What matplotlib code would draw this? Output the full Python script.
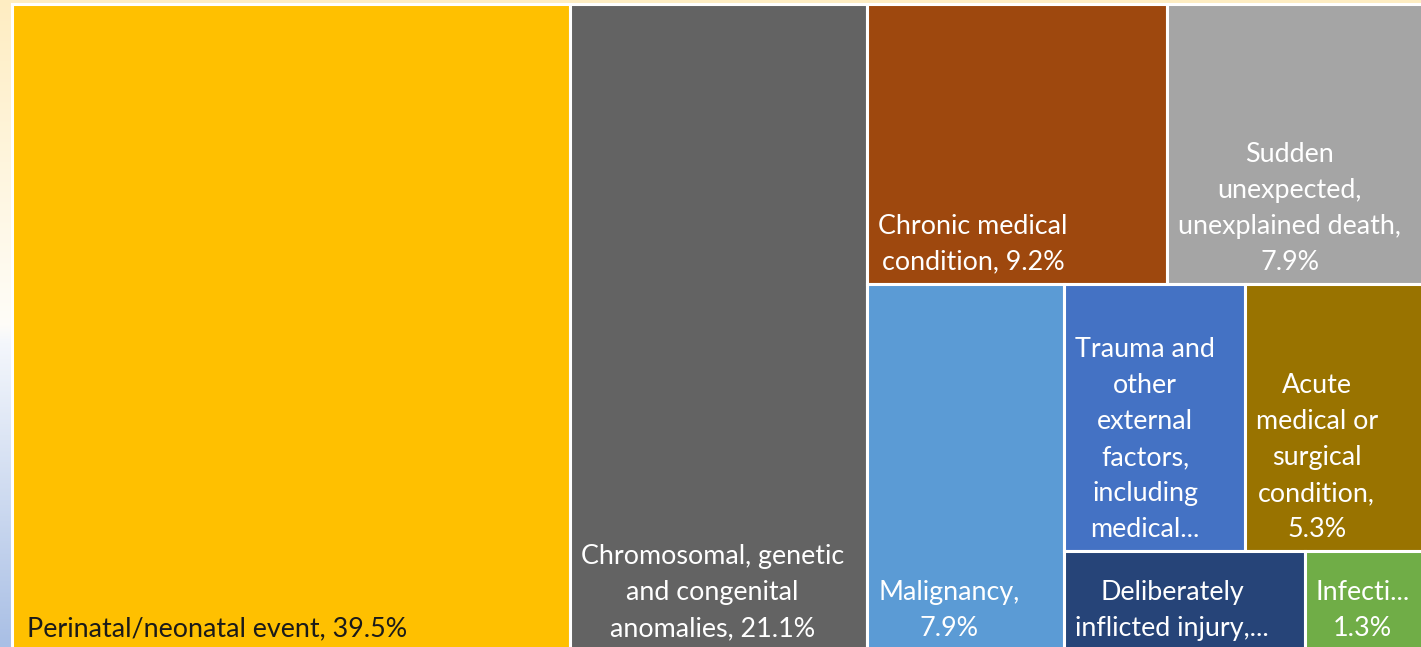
import numpy as np
import matplotlib
matplotlib.use("Agg")
import matplotlib.pyplot as plt
from matplotlib.patches import Rectangle
from matplotlib.colors import LinearSegmentedColormap

# Causes of death (share of all deaths, %)
categories = [
    "Perinatal/neonatal event",
    "Chromosomal, genetic and congenital anomalies",
    "Chronic medical condition",
    "Sudden unexpected, unexplained death",
    "Malignancy",
    "Trauma and other external factors, including medical",
    "Acute medical or surgical condition",
    "Deliberately inflicted injury",
    "Infection",
]
values = [39.5, 21.1, 9.2, 7.9, 7.9, 5.3, 5.3, 2.6, 1.3]
labels = [
    "Perinatal/neonatal event, 39.5%",
    "Chromosomal, genetic\nand congenital\nanomalies, 21.1%",
    "Chronic medical\ncondition, 9.2%",
    "Sudden\nunexpected,\nunexplained death,\n7.9%",
    "Malignancy,\n7.9%",
    "Trauma and\nother\nexternal\nfactors,\nincluding\nmedical...",
    "Acute\nmedical or\nsurgical\ncondition,\n5.3%",
    "Deliberately\ninflicted injury,...",
    "Infecti...\n1.3%",
]
colors = ["#FFC000", "#636363", "#9E480E", "#A5A5A5", "#5B9BD5",
          "#4472C4", "#997300", "#264478", "#70AD47"]
text_colors = ["#1a1a1a"] + ["white"] * 8


def worst(row, side):
    s = sum(row)
    return max(max(side * side * r / (s * s), (s * s) / (side * side * r)) for r in row)


def layout_row(row, x, y, w, h):
    s = sum(row)
    rects = []
    if w >= h:  # column along the left edge
        cw = s / h
        yy = y
        for r in row:
            rh = r / cw
            rects.append((x, yy, cw, rh))
            yy += rh
        return rects, (x + cw, y, w - cw, h)
    rh = s / w  # row along the top edge
    xx = x
    for r in row:
        rw = r / rh
        rects.append((xx, y, rw, rh))
        xx += rw
    return rects, (x, y + rh, w, h - rh)


def squarify(sizes, x, y, w, h):
    total = sum(sizes)
    areas = [v * w * h / total for v in sizes]
    rects = []
    row = []
    i = 0
    while i < len(areas):
        side = min(w, h)
        cand = row + [areas[i]]
        if not row or worst(cand, side) <= worst(row, side):
            row = cand
            i += 1
        else:
            r, (x, y, w, h) = layout_row(row, x, y, w, h)
            rects += r
            row = []
    if row:
        r, _ = layout_row(row, x, y, w, h)
        rects += r
    return rects


W_PX, H_PX = 1421, 647
fig = plt.figure(figsize=(W_PX / 100, H_PX / 100), dpi=100)
ax = fig.add_axes([0, 0, 1, 1])
ax.set_xlim(0, W_PX)
ax.set_ylim(H_PX, 0)
ax.axis("off")

# Slide-style background gradient: cream at the top, white, light blue at the bottom
bg = LinearSegmentedColormap.from_list(
    "bg", [(0.0, "#FEEDC2"), (0.5, "#FFFDF8"), (0.53, "#F4F7FC"), (1.0, "#A9BFE5")])
grad = np.linspace(0, 1, 256).reshape(-1, 1)
ax.imshow(grad, cmap=bg, aspect="auto", extent=(0, W_PX, H_PX, 0), zorder=0)

rects = squarify(values, 12, 4, 1413, 646)
for k, ((x, y, w, h), c, lab, tc) in enumerate(zip(rects, colors, labels, text_colors)):
    ax.add_patch(Rectangle((x, y), w, h, facecolor=c, edgecolor="white",
                           linewidth=2.2, zorder=2))
    pad = 15 if k == 0 else 11
    ax.text(x + pad, y + h - 9, lab, ha="left", va="bottom", ma="center",
            color=tc, fontsize=19.4, family="Lato", linespacing=1.55, zorder=3)

fig.savefig("out.png", dpi=100)
